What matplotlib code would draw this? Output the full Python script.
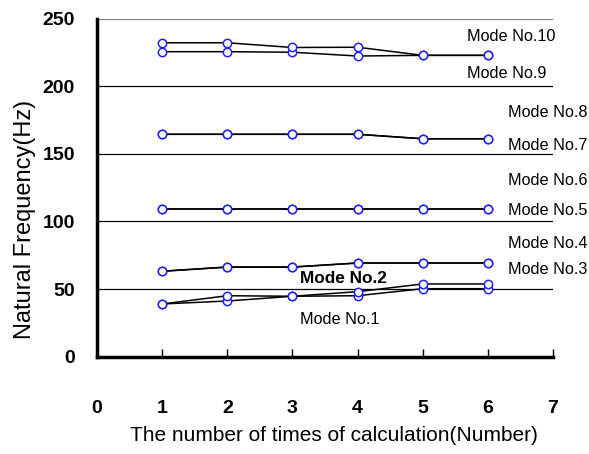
import matplotlib
matplotlib.use('Agg')
import matplotlib.pyplot as plt

# -- data

runs = [1, 2, 3, 4, 5, 6]

modes = {
    'Mode No.1':  [39.0, 41.2, 44.7, 45.1, 50.3, 50.3],
    'Mode No.2':  [39.0, 45.1, 44.7, 48.1, 53.8, 53.8],
    'Mode No.3':  [63.2, 66.3, 66.3, 69.3, 69.3, 69.3],
    'Mode No.4':  [63.2, 66.3, 66.3, 69.3, 69.3, 69.3],
    'Mode No.5':  [109.0, 109.0, 109.0, 109.0, 109.0, 109.0],
    'Mode No.6':  [109.0, 109.0, 109.0, 109.0, 109.0, 109.0],
    'Mode No.7':  [164.5, 164.5, 164.5, 164.5, 161.2, 161.2],
    'Mode No.8':  [164.5, 164.5, 164.5, 164.5, 161.2, 161.2],
    'Mode No.9':  [225.6, 225.6, 225.2, 222.4, 222.9, 222.9],
    'Mode No.10': [232.2, 232.2, 228.7, 228.9, 222.9, 222.9],
}

x_ticks = [0, 1, 2, 3, 4, 5, 6, 7]
y_ticks = [0, 50, 100, 150, 200, 250]

# label anchors (data coords) for the mode names
label_pos = {
    'Mode No.10': (5.68, 236.5),
    'Mode No.9':  (5.68, 209.8),
    'Mode No.8':  (6.31, 180.3),
    'Mode No.7':  (6.31, 155.9),
    'Mode No.6':  (6.31, 130.0),
    'Mode No.5':  (6.31, 107.8),
    'Mode No.4':  (6.31, 83.4),
    'Mode No.3':  (6.31, 64.2),
    'Mode No.2':  (3.12, 57.5),
    'Mode No.1':  (3.12, 27.2),
}

plt.rcParams['font.family'] = ['Liberation Sans', 'DejaVu Sans']

# -- setup plot

fig = plt.figure(figsize=(5.89, 4.54), dpi=100)
ax = fig.add_axes([97/589, 1 - 356.7/454, (553-97)/589, (356.7-18.7)/454])

ax.set_xlim(0, 7)
ax.set_ylim(0, 250)

for y in y_ticks[1:]:
    ax.axhline(y, color='black' if y < 250 else '#808080', lw=0.9, zorder=1)

for name, vals in modes.items():
    ax.plot(runs, vals, color='black', lw=1.1, zorder=2,
            marker='o', ms=6, mfc='white', mec='#2020ff', mew=1.1)

for name, (tx, ty) in label_pos.items():
    if name == 'Mode No.2':
        ax.text(tx, ty, name, fontsize=12.4, va='center', ha='left',
                fontweight='bold', clip_on=False)
    else:
        ax.text(tx, ty, name, fontsize=11.7, va='center', ha='left', clip_on=False)

for s in ['top', 'right']:
    ax.spines[s].set_visible(False)
ax.spines['left'].set_linewidth(2.5)
ax.spines['bottom'].set_linewidth(2.5)

ax.set_xticks(x_ticks)
ax.set_yticks(y_ticks)
ax.tick_params(axis='x', direction='in', length=6, width=1, pad=31, labelsize=14)
ax.tick_params(axis='y', length=0, pad=16, labelsize=14)
for lab in ax.get_xticklabels() + ax.get_yticklabels():
    lab.set_fontweight('bold')

ax.set_xlabel('The number of times of calculation(Number)', fontsize=15)
ax.xaxis.label.set_va('center')
ax.xaxis.set_label_coords(0.52, -0.2346)

ax.set_ylabel('Natural Frequency(Hz)', fontsize=17)
ax.yaxis.label.set_va('center')
ax.yaxis.set_label_coords(-0.158, 0.406)

fig.savefig('out.png', dpi=100)
